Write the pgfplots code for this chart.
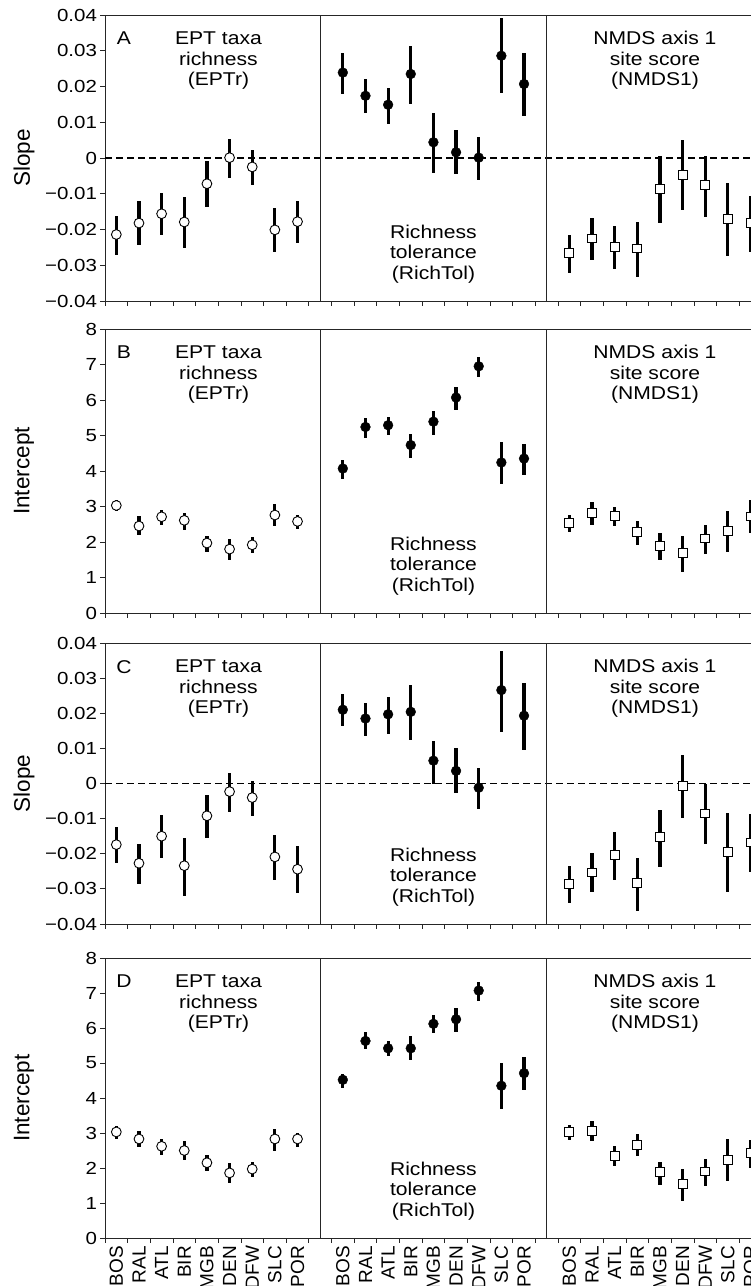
\documentclass[border=0pt]{standalone}
\usepackage{fontspec}
\setmainfont{Liberation Sans}
\newfontfamily\annfont{Liberation Sans}[FakeStretch=1.14]
\newfontfamily\tkfont{Liberation Sans}[FakeStretch=1.17]
\usepackage{pgfplots}
\usepackage{pgfplotstable}
\pgfplotsset{compat=1.18}

\newcommand\annsize{\annfont\fontsize{18.5}{20.5}\selectfont}
\newcommand\ticksize{\tkfont\fontsize{17.5}{19}\selectfont}
\newcommand\ylabsize{\fontsize{22.5}{24}\selectfont}
\newcommand\xlabsize{\fontsize{19}{21}\selectfont}

% columns: x, EPTr (y, lo, hi), RichTol (y, lo, hi), NMDS1 (y, lo, hi)
\pgfplotstableread{
x ey elo ehi ry rlo rhi ny nlo nhi
0 -0.0214 -0.0271 -0.0161 0.0239 0.0179 0.0293 -0.0265 -0.0321 -0.0214
1 -0.0182 -0.0244 -0.0120 0.0174 0.0125 0.0222 -0.0225 -0.0284 -0.0169
2 -0.0156 -0.0214 -0.0099 0.0149 0.0094 0.0197 -0.0249 -0.0310 -0.0190
3 -0.0179 -0.0251 -0.0108 0.0235 0.0152 0.0313 -0.0253 -0.0332 -0.0178
4 -0.0072 -0.0137 -0.0008 0.0044 -0.0041 0.0127 -0.0087 -0.0183 0.0007
5 0.0001 -0.0057 0.0053 0.0016 -0.0046 0.0077 -0.0047 -0.0146 0.0049
6 -0.0025 -0.0076 0.0023 0.0001 -0.0062 0.0060 -0.0076 -0.0166 0.0007
7 -0.0201 -0.0264 -0.0139 0.0286 0.0183 0.0391 -0.0170 -0.0274 -0.0070
8 -0.0178 -0.0238 -0.0120 0.0207 0.0117 0.0293 -0.0181 -0.0262 -0.0105
}\rowA
\pgfplotstableread{
x ey elo ehi ry rlo rhi ny nlo nhi
0 3.03 2.86 3.19 4.07 3.78 4.32 2.54 2.28 2.77
1 2.45 2.21 2.72 5.24 4.93 5.49 2.82 2.49 3.13
2 2.71 2.49 2.91 5.29 5.02 5.51 2.74 2.46 2.98
3 2.61 2.35 2.82 4.73 4.37 5.05 2.28 1.92 2.58
4 1.97 1.72 2.16 5.39 5.02 5.70 1.88 1.48 2.25
5 1.80 1.48 2.08 6.07 5.71 6.38 1.69 1.15 2.16
6 1.92 1.69 2.14 6.95 6.64 7.21 2.10 1.67 2.49
7 2.76 2.46 3.06 4.24 3.63 4.82 2.32 1.72 2.86
8 2.58 2.38 2.77 4.35 3.90 4.77 2.72 2.25 3.19
}\rowB
\pgfplotstableread{
x ey elo ehi ry rlo rhi ny nlo nhi
0 -0.0174 -0.0227 -0.0125 0.0210 0.0164 0.0254 -0.0285 -0.0339 -0.0234
1 -0.0227 -0.0285 -0.0171 0.0185 0.0136 0.0229 -0.0253 -0.0310 -0.0199
2 -0.0150 -0.0211 -0.0090 0.0197 0.0142 0.0245 -0.0203 -0.0274 -0.0139
3 -0.0234 -0.0320 -0.0154 0.0204 0.0123 0.0281 -0.0282 -0.0362 -0.0211
4 -0.0092 -0.0154 -0.0032 0.0065 0.0000 0.0120 -0.0153 -0.0237 -0.0076
5 -0.0023 -0.0080 0.0031 0.0036 -0.0028 0.0100 -0.0008 -0.0099 0.0082
6 -0.0040 -0.0092 0.0008 -0.0012 -0.0073 0.0045 -0.0085 -0.0173 -0.0002
7 -0.0209 -0.0274 -0.0147 0.0266 0.0147 0.0378 -0.0194 -0.0308 -0.0083
8 -0.0244 -0.0312 -0.0177 0.0193 0.0095 0.0287 -0.0168 -0.0253 -0.0087
}\rowC
\pgfplotstableread{
x ey elo ehi ry rlo rhi ny nlo nhi
0 3.03 2.84 3.19 4.52 4.28 4.69 3.03 2.79 3.24
1 2.83 2.59 3.06 5.63 5.39 5.88 3.05 2.76 3.33
2 2.62 2.38 2.83 5.42 5.19 5.64 2.35 2.07 2.62
3 2.50 2.24 2.76 5.42 5.09 5.76 2.67 2.35 2.98
4 2.15 1.92 2.36 6.12 5.87 6.36 1.88 1.52 2.16
5 1.86 1.57 2.14 6.25 5.90 6.57 1.55 1.05 1.97
6 1.97 1.74 2.17 7.07 6.77 7.31 1.90 1.50 2.26
7 2.83 2.50 3.12 4.35 3.69 5.00 2.24 1.62 2.83
8 2.83 2.60 2.99 4.71 4.23 5.17 2.43 2.00 2.81
}\rowD

\pgfplotsset{
  base/.style={
    scale only axis, width=656.85pt, xmin=-0.5, xmax=28.5,
    axis line style={line width=0.9pt, black!85},
    every tick/.style={black!85, line width=0.8pt},
    tick align=outside, major tick length=4.5pt, minor tick length=4.5pt,
    xtick={0,1,2,3,4,5,6,7,8,10,11,12,13,14,15,16,17,18,20,21,22,23,24,25,26,27,28},
    xticklabels={},
    major x tick style={draw=none},
    minor xtick={-0.5,0.5,...,27.5},
    xtick pos=bottom, ytick pos=left,
    scaled y ticks=false,
    yticklabel style={font=\ticksize},
    xticklabel style={font=\xlabsize, rotate=90, anchor=east},
    every axis y label/.style={at={(rel axis cs:0,0.5)}, anchor=center, xshift=-81pt, rotate=90, font=\ylabsize},
    clip=false,
  },
  slope/.style={base, ymin=-0.04, ymax=0.04,
    ytick={-0.04,-0.03,-0.02,-0.01,0,0.01,0.02,0.03,0.04},
    yticklabels={−0.04,−0.03,−0.02,−0.01,0,0.01,0.02,0.03,0.04},
    ylabel={Slope}},
  icpt/.style={base, ymin=0, ymax=8,
    ytick={0,1,2,3,4,5,6,7,8},
    yticklabels={0,1,2,3,4,5,6,7,8},
    ylabel={Intercept}},
  ebar/.style={error bars/.cd, y dir=both, y explicit, error mark=none,
    error bar style={line width=3.2pt, black}},
  ept/.style={only marks, mark=*, mark size=4.9pt,
    mark options={fill=white, draw=black, line width=0.9pt}, ebar},
  rt/.style={only marks, mark=*, mark size=4.9pt,
    mark options={fill=black, draw=black}, ebar},
  nm/.style={only marks, mark=square*, mark size=4.4pt,
    mark options={fill=white, draw=black, line width=0.9pt}, ebar},
  zeroline/.style={black, line width=1.2pt, dash pattern=on 7pt off 4pt, forget plot},
}

\newcommand\plotrow[1]{%
  \addplot[ept] table[x=x, y=ey, y error plus expr=\thisrow{ehi}-\thisrow{ey}, y error minus expr=\thisrow{ey}-\thisrow{elo}] {#1};
  \addplot[rt] table[x expr=\thisrow{x}+10, y=ry, y error plus expr=\thisrow{rhi}-\thisrow{ry}, y error minus expr=\thisrow{ry}-\thisrow{rlo}] {#1};
  \addplot[nm] table[x expr=\thisrow{x}+20, y=ny, y error plus expr=\thisrow{nhi}-\thisrow{ny}, y error minus expr=\thisrow{ny}-\thisrow{nlo}] {#1};
}
\newcommand\annot[1]{%
  \node[font=\annsize, anchor=north, inner sep=0pt] at ({axis cs:0.34,0}|-{rel axis cs:0,1}) [yshift=-17pt] {#1};
  \node[font=\annsize, align=center, anchor=north, inner sep=0pt] at ({axis cs:4.51,0}|-{rel axis cs:0,1}) [yshift=-17pt] {EPT taxa\\richness\\(EPTr)};
  \node[font=\annsize, align=center, anchor=south, inner sep=0pt] at ({axis cs:14.0,0}|-{rel axis cs:0,0}) [yshift=17.5pt] {Richness\\tolerance\\(RichTol)};
  \node[font=\annsize, align=center, anchor=north, inner sep=0pt] at ({axis cs:23.78,0}|-{rel axis cs:0,1}) [yshift=-16pt] {NMDS axis 1\\site score\\(NMDS1)};
}
\newcommand\dividers[2]{%
  \draw[black!85, line width=0.9pt] (axis cs:9,#1) -- (axis cs:9,#2);
  \draw[black!85, line width=0.9pt] (axis cs:19,#1) -- (axis cs:19,#2);
}

\begin{document}
\begin{tikzpicture}
\path[use as bounding box] (0,0) rectangle (751pt,-1286pt);
\clip (0,0) rectangle (751pt,-1286pt);

% Row A
\begin{axis}[slope, at={(105pt,-15pt)}, anchor=north west, height=286pt]
  \addplot[zeroline] coordinates {(-0.5,0) (28.5,0)};
  \dividers{-0.04}{0.04}
  \plotrow{\rowA}
  \annot{A}
\end{axis}

% Row B
\begin{axis}[icpt, at={(105pt,-329pt)}, anchor=north west, height=284pt]
  \dividers{0}{8}
  \plotrow{\rowB}
  \annot{B}
\end{axis}

% Row C
\begin{axis}[slope, at={(105pt,-643pt)}, anchor=north west, height=281pt]
  \addplot[zeroline] coordinates {(-0.5,0) (28.5,0)};
  \dividers{-0.04}{0.04}
  \plotrow{\rowC}
  \annot{C}
\end{axis}

% Row D
\begin{axis}[icpt, at={(105pt,-958pt)}, anchor=north west, height=280pt,
  xticklabels={BOS,RAL,ATL,BIR,MGB,DEN,DFW,SLC,POR,BOS,RAL,ATL,BIR,MGB,DEN,DFW,SLC,POR,BOS,RAL,ATL,BIR,MGB,DEN,DFW,SLC,POR}]
  \dividers{0}{8}
  \plotrow{\rowD}
  \annot{D}
\end{axis}
\end{tikzpicture}
\end{document}
